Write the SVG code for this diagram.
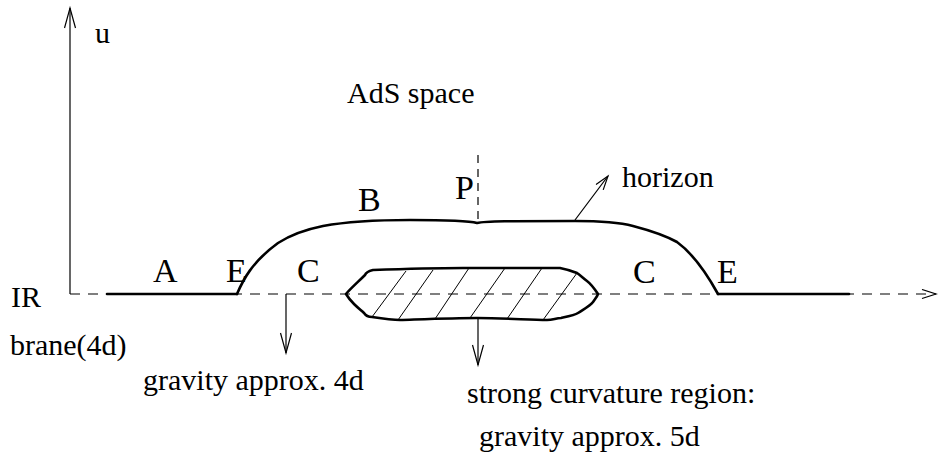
<svg xmlns="http://www.w3.org/2000/svg" width="938" height="456" viewBox="0 0 938 456">
<style>
text{font-family:"Liberation Serif","Times New Roman",serif;fill:#000}
.t{font-size:30px}
.l{font-size:34px}
.thin{fill:none;stroke:#000;stroke-width:1.2}
.thick{fill:none;stroke:#000;stroke-width:2.6;stroke-linejoin:round;stroke-linecap:round}
.dash{fill:none;stroke:#000;stroke-width:1.2;stroke-dasharray:10 8}
.hatch{fill:none;stroke:#000;stroke-width:1}
</style>
<defs>
<marker id="big" markerUnits="userSpaceOnUse" markerWidth="24" markerHeight="14" refX="21" refY="6" orient="auto">
<path d="M1,0.5 L21,6 L1,11.5" fill="none" stroke="#000" stroke-width="1.2"/>
</marker>
<marker id="small" markerUnits="userSpaceOnUse" markerWidth="18" markerHeight="12" refX="15" refY="5" orient="auto">
<path d="M1,0.5 L15,5 L1,9.5" fill="none" stroke="#000" stroke-width="1.2"/>
</marker>
</defs>
<rect width="938" height="456" fill="#fff"/>
<g id="axes">
<line class="thin" x1="70" y1="294" x2="70" y2="8" marker-end="url(#big)"/>
<line class="dash" x1="70" y1="294" x2="936" y2="294" marker-end="url(#small)"/>
</g>
<g id="brane">
<line class="thick" x1="107" y1="294" x2="237" y2="294"/>
<line class="thick" x1="718" y1="294" x2="849" y2="294"/>
</g>
<g id="horizon">
<path class="thick" d="M237,294 C243,280 252,262 278,243 C292,234 308,229 323,226 C345,222 368,220 410,220 C450,220 470,221 477,223 C485,221 510,221 575,221 C600,221 618,222 633,226 C652,231 668,237 677,242 C688,250 702,265 718,294"/>
</g>
<g id="blob">
<path class="thick" d="M346,294 C349,299 351,301 354,304 C358,308 362,311 364,313 C366,316 368,317 372,317 C385,319 392,320 400,320 C430,319 455,318 477,318 C505,318 530,320 547,320 C553,320 556,318 561,318 C570,316 575,315 578,313 C584,309 590,306 593,302 C595,299 597,297 598,294 C594,288 591,284 587,281 C583,278 580,275 577,273 C570,270 565,269 560,268 C555,268 550,268 547,268 C520,268 490,268 463,268 C430,268 400,269 373,270 C369,271 366,272 365,275 C358,282 350,289 346,294 Z"/>
<line class="hatch" x1="372" y1="317" x2="406" y2="271"/>
<line class="hatch" x1="398" y1="320" x2="433" y2="270"/>
<line class="hatch" x1="435" y1="319" x2="469" y2="268"/>
<line class="hatch" x1="470" y1="318" x2="505" y2="268"/>
<line class="hatch" x1="507" y1="319" x2="542" y2="268"/>
<line class="hatch" x1="543" y1="320" x2="577" y2="273"/>
</g>
<g id="connectors">
<line class="dash" x1="478" y1="155" x2="478" y2="222" style="stroke-dasharray:8 6"/>
<line class="thin" x1="575" y1="220" x2="608" y2="176" marker-end="url(#small)"/>
<line class="thin" x1="286" y1="294" x2="286" y2="353" marker-end="url(#big)"/>
<line class="thin" x1="478" y1="319" x2="478" y2="365" marker-end="url(#big)"/>
</g>
<g id="labels">
<text class="t" x="95" y="43">u</text>
<text class="t" x="347" y="103">AdS space</text>
<text class="t" x="622" y="187">horizon</text>
<text class="l" x="455" y="199">P</text>
<text class="l" x="358" y="211">B</text>
<text class="l" x="153" y="282">A</text>
<text class="l" x="226" y="282">E</text>
<text class="l" x="297" y="282">C</text>
<text class="l" x="633" y="283">C</text>
<text class="l" x="717" y="283">E</text>
<text class="t" x="11" y="307">IR</text>
<text class="t" x="10" y="355">brane(4d)</text>
<text class="t" x="143" y="390">gravity approx. 4d</text>
<text class="t" x="467" y="403">strong curvature region:</text>
<text class="t" x="479" y="446">gravity approx. 5d</text>
</g>
</svg>
